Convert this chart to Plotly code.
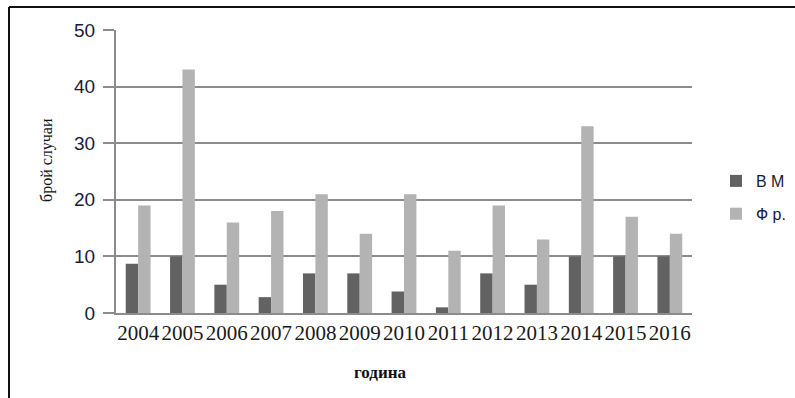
import plotly.graph_objects as go

# Annual case counts, 2004-2016
years = ["2004", "2005", "2006", "2007", "2008", "2009", "2010",
         "2011", "2012", "2013", "2014", "2015", "2016"]
vm_cases = [8.7, 10, 5, 2.8, 7, 7, 3.8, 1, 7, 5, 10, 10, 10]
fr_cases = [19, 43, 16, 18, 21, 14, 21, 11, 19, 13, 33, 17, 14]
series_names = ["В М", "Ф р."]

W, H = 795, 398
L, R, T, B = 116, 103, 30, 85
PW, PH = W - L - R, H - T - B


def px_x(px):
    return (px - L) / PW


def px_y(py):
    return (H - B - py) / PH


fig = go.Figure()
fig.add_trace(go.Bar(x=years, y=vm_cases, name=series_names[0],
                     marker=dict(color="#626262", line=dict(width=0)),
                     legendgroup="a"))
fig.add_trace(go.Bar(x=years, y=fr_cases, name=series_names[1],
                     marker=dict(color="#b3b3b3", line=dict(width=0)),
                     legendgroup="b"))

grid = "#8c8c8c"
fig.update_layout(
    width=W, height=H,
    margin=dict(l=L, r=R, t=T, b=B, autoexpand=False),
    paper_bgcolor="white", plot_bgcolor="white",
    barmode="group", bargap=0.44, bargroupgap=0,
    showlegend=True,
    legend=dict(x=px_x(716), y=px_y(164), xanchor="left", yanchor="top",
                font=dict(family="Liberation Sans", size=16, color="#1a1a3a"),
                itemwidth=30, tracegroupgap=9, traceorder="grouped",
                bgcolor="rgba(0,0,0,0)"),
    xaxis=dict(
        showline=True, linecolor=grid, linewidth=2,
        ticks="", showgrid=False,
        tickfont=dict(family="Liberation Serif", size=21, color="#1a1a1a"),
        automargin=False,
    ),
    yaxis=dict(
        range=[0, 50], dtick=10,
        showline=True, linecolor=grid, linewidth=2,
        showgrid=True, gridcolor=grid, gridwidth=2,
        ticks="outside", ticklen=11, tickcolor=grid, tickwidth=2,
        ticklabelstandoff=4,
        tickfont=dict(family="Liberation Sans", size=19, color="#1a1a3a"),
        zeroline=False, automargin=False,
    ),
    annotations=[
        dict(text="брой случаи", textangle=-90, x=px_x(47), y=px_y(160),
             xref="paper", yref="paper", showarrow=False,
             xanchor="center", yanchor="middle",
             font=dict(family="Liberation Serif", size=16, color="#111")),
        dict(text="<b>година</b>", x=px_x(380), y=px_y(372),
             xref="paper", yref="paper", showarrow=False,
             xanchor="center", yanchor="middle",
             font=dict(family="Liberation Serif", size=17, color="#111")),
    ],
    shapes=[
        dict(type="line", xref="paper", yref="paper",
             x0=px_x(9), x1=px_x(800), y0=px_y(7), y1=px_y(7),
             line=dict(color="#111", width=2)),
        dict(type="line", xref="paper", yref="paper",
             x0=px_x(9), x1=px_x(9), y0=px_y(7), y1=px_y(405),
             line=dict(color="#111", width=2)),
    ],
)

fig.write_html("out.html")
